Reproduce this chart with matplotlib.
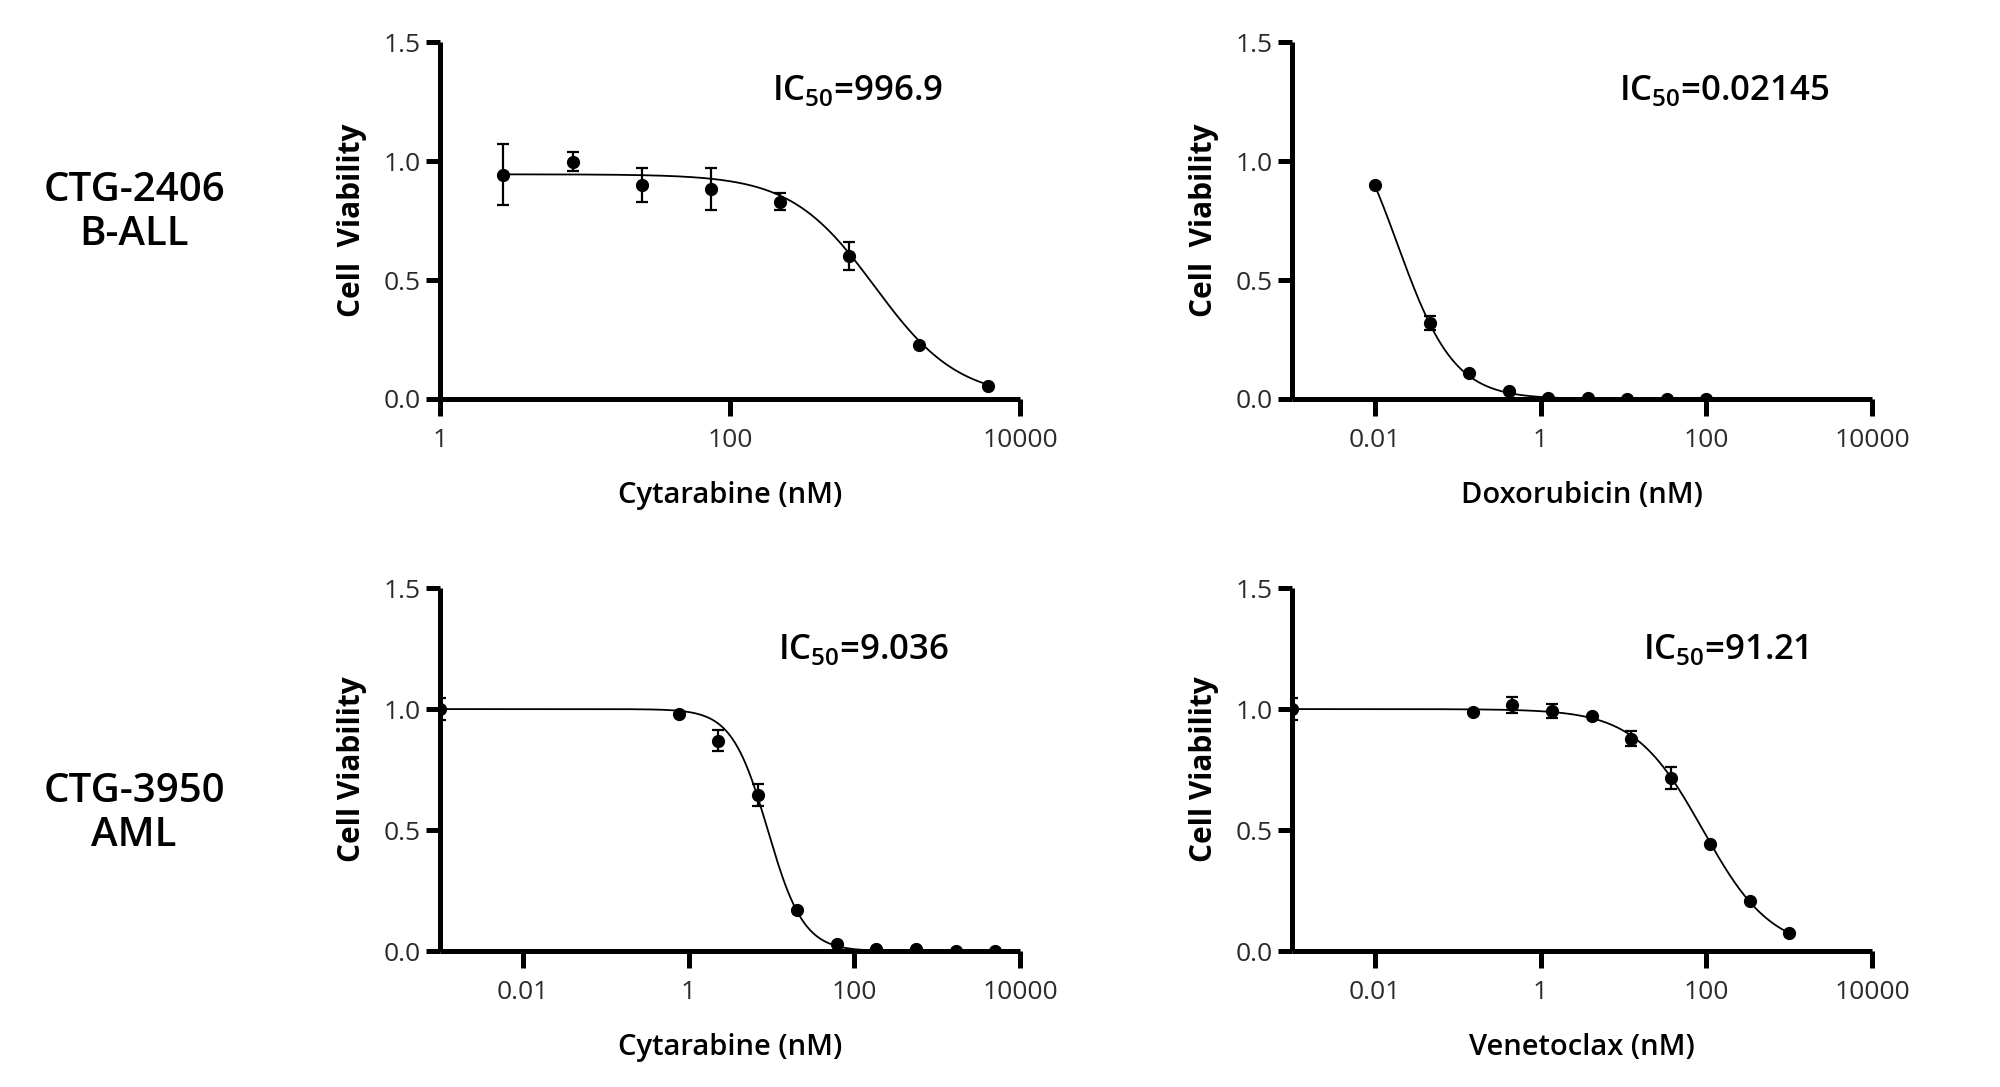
import matplotlib

matplotlib.use("Agg")
import matplotlib.pyplot as plt
import numpy as np

plt.rcParams["font.family"] = ["Open Sans", "DejaVu Sans"]
plt.rcParams["mathtext.fontset"] = "custom"
plt.rcParams["mathtext.rm"] = "Open Sans:semibold"

# --- data ------------------------------------------------------------------
# top-left: CTG-2406, cytarabine
cyt1_conc = [2.74, 8.23, 24.7, 74.1, 222, 667, 2000, 6000]
cyt1_mean = [0.944, 0.997, 0.900, 0.883, 0.830, 0.601, 0.225, 0.056]
cyt1_err = [0.13, 0.04, 0.072, 0.09, 0.035, 0.06, 0.0, 0.0]
cyt1_fit = dict(top=0.945, bottom=0.0, ic50=996.9, hill=1.5)

# top-right: CTG-2406, doxorubicin
dox_conc = [0.01, 0.0457, 0.137, 0.412, 1.23, 3.7, 11.1, 33.3, 100]
dox_mean = [0.898, 0.319, 0.108, 0.032, 0.006, 0.002, 0.0, 0.0, 0.0]
dox_err = [0.0, 0.028, 0.0, 0.0, 0.0, 0.0, 0.0, 0.0, 0.0]
dox_fit = dict(top=1.3, bottom=0.0, ic50=0.0188, hill=1.27)

# bottom-left: CTG-3950, cytarabine
cyt2_conc = [0.001, 0.762, 2.29, 6.86, 20.6, 61.7, 185, 556, 1667, 5000]
cyt2_mean = [1.0, 0.979, 0.870, 0.644, 0.169, 0.028, 0.010, 0.010, 0.0, 0.0]
cyt2_err = [0.045, 0.0, 0.044, 0.045, 0.0, 0.0, 0.0, 0.0, 0.0, 0.0]
cyt2_fit = dict(top=1.0, bottom=0.0, ic50=9.036, hill=2.0)

# bottom-right: CTG-3950, venetoclax
ven_conc = [0.001, 0.152, 0.457, 1.37, 4.12, 12.3, 37.0, 111, 333, 1000]
ven_mean = [1.0, 0.989, 1.017, 0.992, 0.970, 0.878, 0.716, 0.444, 0.207, 0.076]
ven_err = [0.045, 0.0, 0.032, 0.03, 0.0, 0.03, 0.045, 0.0, 0.0, 0.0]
ven_fit = dict(top=1.0, bottom=0.0, ic50=91.21, hill=1.05)

ROW_LABELS = ["CTG-2406\nB-ALL", "CTG-3950\nAML"]
IC50_TEXT = ["996.9", "0.02145", "9.036", "91.21"]

PANELS = [
    # conc, mean, err, fit, drug, xmin, curve start, ylabel, ic50 pos
    (cyt1_conc, cyt1_mean, cyt1_err, cyt1_fit, "Cytarabine (nM)", 1, 2.74, "Cell  Viability", (0.72, 0.865)),
    (dox_conc, dox_mean, dox_err, dox_fit, "Doxorubicin (nM)", 0.001, 0.01, "Cell  Viability", (0.745, 0.865)),
    (cyt2_conc, cyt2_mean, cyt2_err, cyt2_fit, "Cytarabine (nM)", 0.001, 0.001, "Cell Viability", (0.73, 0.83)),
    (ven_conc, ven_mean, ven_err, ven_fit, "Venetoclax (nM)", 0.001, 0.001, "Cell Viability", (0.748, 0.83)),
]

AX_RECTS = [
    [0.220, 0.633, 0.290, 0.328],
    [0.646, 0.633, 0.290, 0.328],
    [0.220, 0.125, 0.290, 0.334],
    [0.646, 0.125, 0.290, 0.334],
]


def four_pl(x, top, bottom, ic50, hill):
    return bottom + (top - bottom) / (1 + (x / ic50) ** hill)


fig = plt.figure(figsize=(20, 10.87), dpi=100)

for i, (conc, mean, err, fit, drug, xmin, x0, ylab, ic_pos) in enumerate(PANELS):
    ax = fig.add_axes(AX_RECTS[i])
    conc = np.array(conc)
    xx = np.logspace(np.log10(x0), np.log10(conc.max()), 400)
    ax.plot(xx, four_pl(xx, **fit), color="black", lw=1.3, zorder=2)
    ax.errorbar(conc, mean, yerr=err, fmt="none", ecolor="black", elinewidth=1.6,
                capsize=4.5, capthick=1.6, zorder=3)
    ax.plot(conc, mean, "o", color="black", ms=8.5, zorder=4)

    ax.set_xscale("log")
    ax.set_xlim(xmin, 10000)
    ax.set_ylim(0, 1.5)
    ax.set_yticks([0.0, 0.5, 1.0, 1.5])
    ax.set_yticklabels(["0.0", "0.5", "1.0", "1.5"])
    if xmin == 1:
        ticks = [1, 100, 10000]
    else:
        ticks = [0.01, 1, 100, 10000]
    ax.set_xticks(ticks)
    ax.set_xticklabels([f"{t:g}" for t in ticks])
    ax.minorticks_off()

    for side in ["top", "right"]:
        ax.spines[side].set_visible(False)
    for side in ["left", "bottom"]:
        ax.spines[side].set_linewidth(3.6)
        ax.spines[side].set_capstyle("butt")
    ax.tick_params(axis="both", width=3.6, length=10, labelsize=19,
                   labelcolor="#2b2b2b", pad=4)
    ax.tick_params(axis="x", length=12, pad=9)

    ax.set_xlabel(drug, fontsize=21, fontweight="semibold", labelpad=20)
    ax.set_ylabel(ylab, fontsize=21.5, fontweight="bold", labelpad=12)
    ax.patch.set_alpha(0)

    ax.text(ic_pos[0], ic_pos[1], "IC$_{\\mathrm{50}}$=" + IC50_TEXT[i],
            transform=ax.transAxes, ha="center", va="center", fontsize=25,
            fontweight="semibold")

fig.text(0.067, 0.804, ROW_LABELS[0], ha="center", va="center", fontsize=29,
         fontweight="semibold", linespacing=1.15)
fig.text(0.067, 0.251, ROW_LABELS[1], ha="center", va="center", fontsize=29,
         fontweight="semibold", linespacing=1.15)

fig.savefig("out.png", dpi=100, facecolor="white")
